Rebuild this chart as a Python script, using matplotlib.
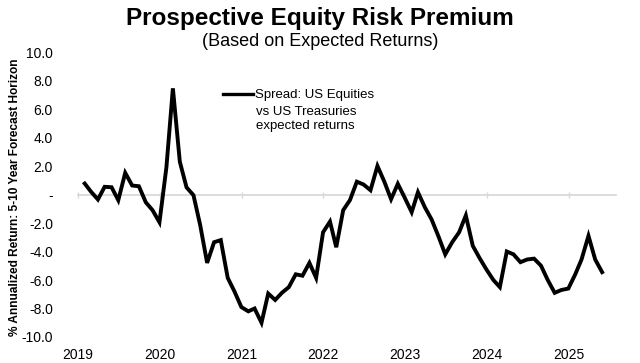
import matplotlib
matplotlib.use("Agg")
import matplotlib.pyplot as plt
import pandas as pd

plt.rcParams['font.family'] = ['Liberation Sans', 'DejaVu Sans']

# Month-end observations, Jan 2019 .. May 2025
dates = pd.date_range("2019-01-31", periods=77, freq="ME")
spread = [
    0.77, 0.2, -0.35, 0.54, 0.51, -0.4, 1.52, 0.63, 0.58, -0.55, -1.1, -1.95,
    1.9, 7.45, 2.3, 0.5, -0.05, -2.15, -4.8, -3.35, -3.2, -5.85, -6.8, -7.9,
    -8.2, -8.0, -9.0, -6.95, -7.4, -6.9, -6.5, -5.6, -5.7, -4.8, -5.85, -2.65,
    -1.9, -3.7, -1.1, -0.4, 0.9, 0.7, 0.3, 2.0, 0.93, -0.33, 0.75, -0.23,
    -1.24, 0.16, -0.9, -1.75, -2.95, -4.2, -3.35, -2.65, -1.47, -3.6, -4.45, -5.26,
    -6.0, -6.5, -4.0, -4.2, -4.75, -4.56, -4.5, -5.0, -6.0, -6.9, -6.7, -6.6,
    -5.6, -4.56, -2.9, -4.56, -5.45,
]
y_ticks = [-10, -8, -6, -4, -2, 0, 2, 4, 6, 8, 10]
y_tick_labels = ["-10.0", "-8.0", "-6.0", "-4.0", "-2.0", "-", "2.0", "4.0", "6.0", "8.0", "10.0"]
years = [2019, 2020, 2021, 2022, 2023, 2024, 2025]

title = "Prospective Equity Risk Premium"
subtitle = "(Based on Expected Returns)"
ylabel = "% Annualized Return: 5-10 Year Forecast Horizon"
legend_lines = ["Spread: US Equities", "vs US Treasuries", "expected returns"]

W, H = 640, 363
fig = plt.figure(figsize=(W / 100, H / 100), dpi=100)
left, right, top, bottom = 78, 616, 52, 337
ax = fig.add_axes([left / W, 1 - bottom / H, (right - left) / W, (bottom - top) / H])

line, = ax.plot(dates, spread, color="black", lw=2.8, solid_joinstyle="miter", zorder=3)

ax.set_ylim(-10, 10)
ax.set_xlim(pd.Timestamp("2019-01-01"), pd.Timestamp("2025-08-01"))
ax.set_yticks(y_ticks)
ax.set_yticklabels(y_tick_labels)
year_ts = [pd.Timestamp(f"{y}-01-01") for y in years]
ax.set_xticks(year_ts)
ax.set_xticklabels([str(y) for y in years])

for s in ax.spines.values():
    s.set_visible(False)
# zero line: top spine moved to y=0, carrying small year ticks
ax.spines["top"].set_visible(True)
ax.spines["top"].set_position(("data", 0))
ax.spines["top"].set_color("#d9d9d9")
ax.spines["top"].set_linewidth(1.3)
ax.spines["top"].set_zorder(1)

ax.tick_params(axis="y", length=0, pad=18, labelsize=10)
ax.tick_params(axis="x", top=True, bottom=False, labeltop=False, labelbottom=True,
               length=4, width=1, color="#d9d9d9", direction="inout", pad=6, labelsize=10)

ax.set_ylabel(ylabel, fontsize=8.6, fontweight="bold")
ax.yaxis.set_label_coords(-(left - 21) / (right - left), 0.49)

fig.text(0.5, 1 - 18 / H, title, ha="center", va="center", fontsize=17.5, fontweight="bold")
fig.text(0.5, 1 - 41 / H, subtitle, ha="center", va="center", fontsize=13)

# legend
leg = ax.legend([line], [legend_lines[0]], loc="upper left",
                bbox_to_anchor=((223 - left) / (right - left), (bottom - 89) / (bottom - top)),
                frameon=False, borderpad=0, borderaxespad=0, handlelength=2.25,
                handletextpad=0.2, fontsize=9.5)
leg.get_lines()[0].set_linewidth(2.4)
ax.text((256 - left) / (right - left), (bottom - 106) / (bottom - top),
        "\n".join(legend_lines[1:]), transform=ax.transAxes, ha="left", va="top",
        fontsize=9.5, linespacing=1.25)

fig.savefig("out.png", dpi=100)
